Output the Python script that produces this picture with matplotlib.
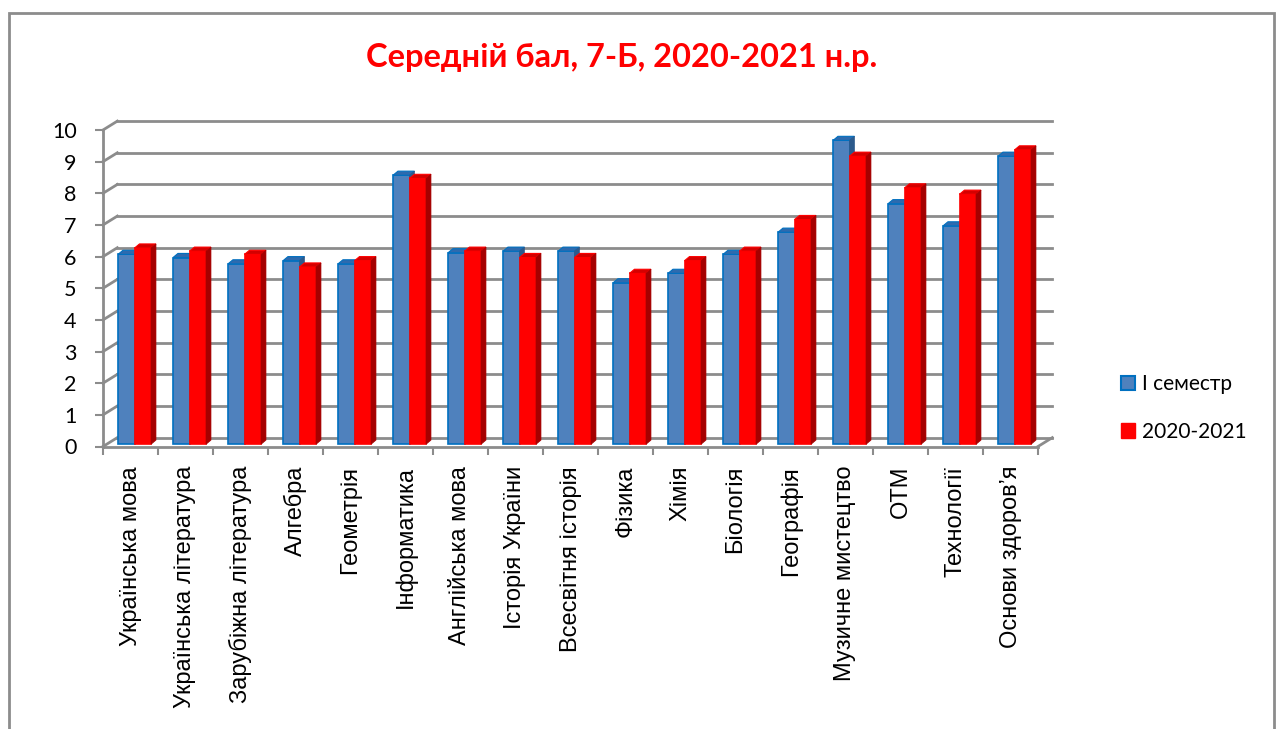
import numpy as np
import matplotlib
matplotlib.use("Agg")
import matplotlib.pyplot as plt
from matplotlib.patches import Patch, Rectangle, Polygon

# ----- data -----
subjects = [
    "Українська мова", "Українська література", "Зарубіжна література",
    "Алгебра", "Геометрія", "Інформатика", "Англійська мова",
    "Історія України", "Всесвітня історія", "Фізика", "Хімія",
    "Біологія", "Географія", "Музичне мистецтво", "ОТМ",
    "Технології", "Основи здоров’я",
]
semester_1 = [6.0, 5.9, 5.7, 5.8, 5.7, 8.5, 6.05, 6.1, 6.1, 5.1, 5.4,
              6.0, 6.7, 9.6, 7.6, 6.9, 9.1]
year_2020_21 = [6.2, 6.1, 6.0, 5.6, 5.8, 8.4, 6.1, 5.9, 5.9, 5.4, 5.8,
                6.1, 7.1, 9.1, 8.1, 7.9, 9.3]
series_names = ["І семестр", "2020-2021"]
y_ticks = list(range(0, 11))

TITLE = "Середній бал, 7-Б, 2020-2021 н.р."

# ----- style -----
W, H = 1281, 729
GRID = "#8c8c8c"
DX, DY = 0.26, 0.28      # depth of the 3d "box" (data units)
SDX, SDY = 0.09, 0.13    # depth of each bar
BAR_W = 0.30
BAR_BASE = 0.07
SERIES_STYLE = [
    dict(face="#4f81bd", top="#2e6aae", side="#2c5a8c", edge="#0070c0", shift=-0.077),
    dict(face="#ff0000", top="#d40000", side="#a50000", edge="#ff0000", shift=0.223),
]

fig = plt.figure(figsize=(W / 100, H / 100), dpi=100)
fig.patch.set_facecolor("white")

# chart frame (bottom edge lies outside the picture)
fig.patches.append(Rectangle((9 / W, -0.05), (1274 - 9) / W, 1.05 - 13 / H,
                             transform=fig.transFigure, fill=False,
                             edgecolor=GRID, lw=2))

left_px, right_px = 103, 1038
y0_px, y10_px = 446.5, 130
ax = fig.add_axes([left_px / W, (H - y0_px) / H,
                   (right_px - left_px) / W, (y0_px - y10_px) / H])
n = len(subjects)
x = np.arange(n)
ax.set_xlim(-0.5, n - 0.5)
ax.set_ylim(0, 10)
for s in ax.spines.values():
    s.set_visible(False)

# walls: back gridlines, slanted left wall lines, floor
xl, xr = -0.5, n - 0.5
for v in y_ticks:
    ax.plot([xl + DX, xr + DX], [v + DY, v + DY], color=GRID, lw=2, clip_on=False, zorder=1)
    ax.plot([xl, xl + DX], [v, v + DY], color=GRID, lw=2, clip_on=False, zorder=1)
ax.plot([xl, xl], [0, 10], color=GRID, lw=2, clip_on=False, zorder=1)
ax.plot([xl, xr], [0, 0], color=GRID, lw=2, clip_on=False, zorder=1)
ax.plot([xr, xr + DX], [0, DY], color=GRID, lw=2, clip_on=False, zorder=1)

# 3d-looking bars
for k, (vals, st) in enumerate(zip([semester_1, year_2020_21], SERIES_STYLE)):
    z = 3 + k * 3
    xs = x + st["shift"]
    ax.bar(xs, vals, width=BAR_W, bottom=BAR_BASE, color=st["face"],
           edgecolor=st["edge"], linewidth=1.2, zorder=z, clip_on=False)
    for xc, v in zip(xs, vals):
        x0, x1 = xc - BAR_W / 2, xc + BAR_W / 2
        top = BAR_BASE + v
        ax.add_patch(Polygon([(x0, top), (x1, top), (x1 + SDX, top + SDY), (x0 + SDX, top + SDY)],
                             closed=True, facecolor=st["top"], edgecolor=st["edge"],
                             lw=0.8, zorder=z + 1, clip_on=False))
        ax.add_patch(Polygon([(x1, BAR_BASE), (x1, top), (x1 + SDX, top + SDY), (x1 + SDX, BAR_BASE + SDY)],
                             closed=True, facecolor=st["side"], edgecolor=st["side"],
                             lw=0.5, zorder=z + 1, clip_on=False))

# ticks
ax.set_yticks(y_ticks)
ax.set_yticklabels([str(v) for v in y_ticks], fontfamily="Lato", fontsize=15.5)
ax.tick_params(axis="y", length=6, width=1.5, color=GRID, pad=13)
ax.set_xticks(x)
ax.set_xticklabels(subjects, rotation=90, fontfamily="Liberation Sans", fontsize=17,
                   va="top", ha="center")
ax.set_xticks(np.arange(n + 1) - 0.5, minor=True)
ax.tick_params(axis="x", which="major", length=0, pad=14)
ax.tick_params(axis="x", which="minor", length=6, width=1.5, color=GRID)

fig.text(622 / W, 1 - 57 / H, TITLE, color="#ff0000", fontsize=23.5, fontweight="bold",
         fontfamily="Lato", ha="center", va="center")

handles = [Patch(facecolor=SERIES_STYLE[0]["face"], edgecolor=SERIES_STYLE[0]["edge"], lw=1.5),
           Patch(facecolor=SERIES_STYLE[1]["face"], edgecolor=SERIES_STYLE[1]["face"])]
fig.legend(handles, series_names, loc="center left", bbox_to_anchor=(1102 / W, 1 - 408 / H),
           frameon=False, prop=dict(family="Lato", size=15), handlelength=0.7,
           handleheight=0.7, handletextpad=0.3, labelspacing=1.3)

fig.savefig("out.png", dpi=100)
